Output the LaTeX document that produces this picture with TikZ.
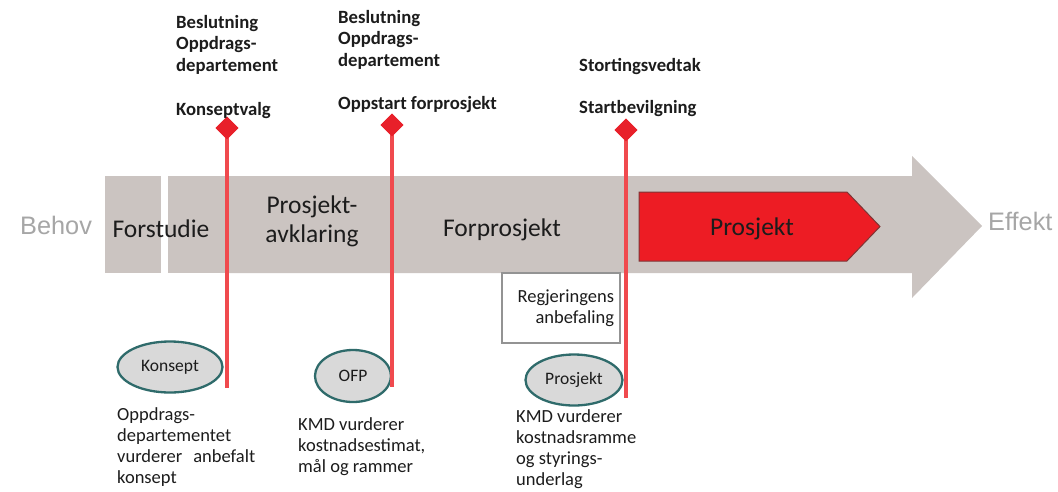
\documentclass[tikz,border=0pt]{standalone}
\usepackage{fontspec}
\setmainfont{Carlito}
\newfontfamily\arialfont{Liberation Sans}
\usetikzlibrary{shapes.geometric}

\definecolor{shaftgray}{HTML}{CBC4C1}
\definecolor{milestonered}{HTML}{E8202A}
\definecolor{poleRed}{HTML}{F04A4E}
\definecolor{phasered}{HTML}{ED1C24}
\definecolor{ovalfill}{HTML}{D9D9D9}
\definecolor{ovalline}{HTML}{2F6B6B}
\definecolor{endgray}{HTML}{A6A6A6}
\definecolor{ink}{HTML}{1C1C1C}

\tikzset{
  phasebox/.style={fill=shaftgray, draw=none},
  phaselabel/.style={font=\fontsize{25.5}{29}\selectfont, text=ink, inner sep=0, align=center},
  endlabel/.style={font=\arialfont\fontsize{25.3}{29}\selectfont, text=endgray, inner sep=0, anchor=base west},
  decision/.style={font=\bfseries\fontsize{18.7}{21.5}\selectfont, text=ink, align=left, inner sep=0, anchor=north west},
  note/.style={font=\fontsize{18.5}{21}\selectfont, text=ink, align=left, inner sep=0, anchor=north west},
  milestone/.style={diamond, aspect=1, fill=milestonered, draw=none, minimum size=23pt, inner sep=0},
  pole/.style={draw=poleRed, line width=4.5pt},
  review/.style={ellipse, fill=ovalfill, draw=ovalline, line width=2.3pt, inner sep=0,
                 font=\fontsize{17.5}{20}\selectfont, text=ink},
  recbox/.style={draw=gray!85, line width=1.6pt, fill=white, minimum width=118pt, minimum height=70pt,
                 inner sep=0, text width=106pt, align=right, font=\fontsize{18.5}{20.5}\selectfont, text=ink}
}

\begin{document}
\begin{tikzpicture}[x=1pt,y=-1pt]
\useasboundingbox[fill=white] (0,0) rectangle (1058,491);

% main process arrow
\fill[shaftgray] (228,176) -- (912,176) -- (912,156) -- (982,226) -- (912,298) -- (912,273) -- (228,273) -- cycle;
\fill[phasebox] (105,176) rectangle (161,273);
\fill[phasebox] (168,176) rectangle (225,273);

% project phase (red pentagon)
\draw[fill=phasered, draw=gray!60!red!70!black, line width=1pt]
  (639,192) -- (847,192) -- (880,226.5) -- (847,261) -- (639,261) -- cycle;

% phase labels
\node[endlabel] (behov) at (20,234) {Behov};
\node[endlabel] (effekt) at (988,230) {Effekt};
\node[phaselabel, anchor=base] (forstudie) at (161,237) {Forstudie};
\node[phaselabel, anchor=north] (avklaring) at (312,196) {Prosjekt-\\avklaring};
\node[phaselabel, anchor=base] (forprosjekt) at (502,236) {Forprosjekt};
\node[phaselabel, anchor=base] (prosjekt) at (752,235) {Prosjekt};

% government recommendation
\node[recbox] (reg) at (561,308) {Regjeringens\\anbefaling};

% quality assurance reviews
\node[review, minimum width=105pt, minimum height=51pt] (konsept) at (170,367) {Konsept};
\node[review, minimum width=76pt, minimum height=52pt] (ofp) at (353,376) {OFP};
\node[review, minimum width=97pt, minimum height=51pt] (kp) at (574,380) {Prosjekt};

% decision gates
\coordinate (e1) at (227,388);
\coordinate (e2) at (392,387);
\coordinate (e3) at (626,398);
\node[milestone] (d1) at (227,128) {};
\node[milestone] (d2) at (392,125) {};
\node[milestone] (d3) at (626,130) {};
\draw[pole] (d1.center) -- (e1);
\draw[pole] (d2.center) -- (e2);
\draw[pole] (d3.center) -- (e3);
\node[milestone] at (d1) {};
\node[milestone] at (d2) {};
\node[milestone] at (d3) {};

% decision texts
\node[decision] (t1) at (176,15) {Beslutning\\Oppdrags-\\departement\\[23pt]Konseptvalg};
\node[decision] (t2) at (338,10) {Beslutning\\Oppdrags-\\departement\\[22pt]Oppstart forprosjekt};
\node[decision] (t3) at (579,58) {Stortingsvedtak\\[21pt]Startbevilgning};

% review descriptions
\node[note] (n1) at (117,407) {Oppdrags-\\departementet\\vurderer\hspace{11pt}anbefalt\\konsept};
\node[note] (n2) at (298,417) {KMD vurderer\\kostnadsestimat,\\mål og rammer};
\node[note] (n3) at (516,409) {KMD vurderer\\kostnadsramme\\og styrings-\\underlag};
\end{tikzpicture}
\end{document}
